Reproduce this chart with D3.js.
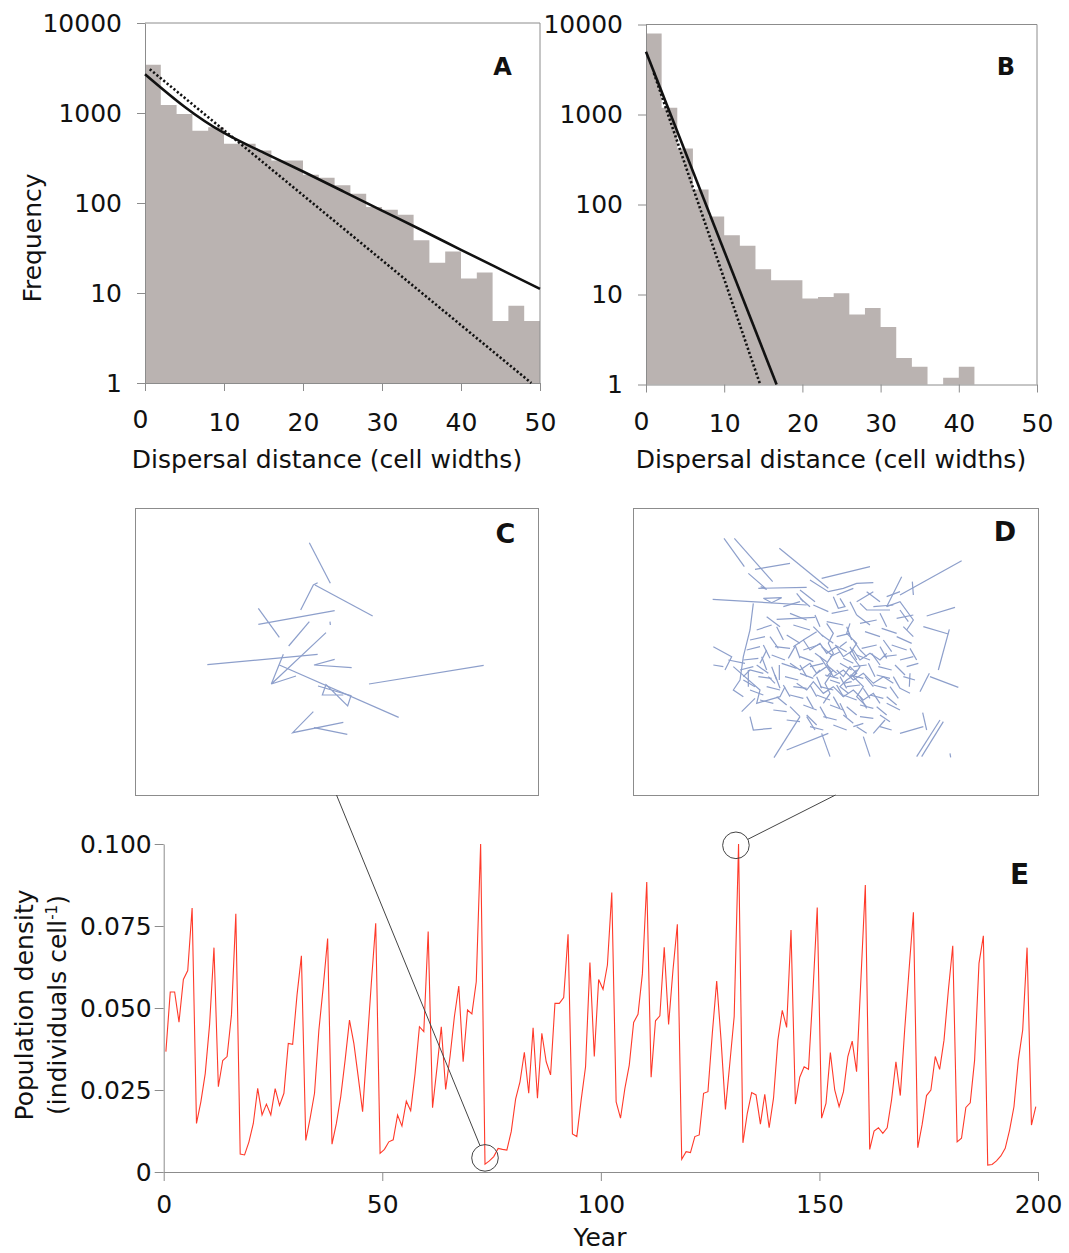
<!DOCTYPE html>
<html>
<head>
<meta charset="utf-8">
<script src="https://cdn.jsdelivr.net/npm/d3@7"></script>
<style>
    body { margin: 0; background: #fff; }
    svg { display: block; font-family: "DejaVu Sans", Verdana, sans-serif; }
    .axis path, .axis line { stroke: #8c8c8c; stroke-width: 1; }
    .axis text { font-size: 25px; fill: #111; font-family: "DejaVu Sans", Verdana, sans-serif; }
    .title { font-size: 25px; fill: #111; }
    .panel-label { font-weight: bold; fill: #111; text-anchor: middle; }
</style>
</head>
<body>
<svg id="fig" width="1069" height="1253"></svg>
<script>
// Histogram bins (cell widths), bin width 2
const binWidth = 2;
const binStartsA = [0, 2, 4, 6, 8, 10, 12, 14, 16, 18, 20, 22, 24, 26, 28, 30, 32, 34, 36, 38, 40, 42, 44, 46, 48];
const freqA = [3430, 1227, 975, 637, 694, 454, 454, 383, 297, 297, 206, 191, 157, 127, 90, 84, 74, 38.6, 21.7, 29, 14.5, 16.9, 4.9, 7.2, 4.9];
const binStartsB = [0, 2, 4, 6, 8, 10, 12, 14, 16, 18, 20, 22, 24, 26, 28, 30, 32, 34, 36, 38, 40];
const freqB = [7940, 1186, 419, 147, 73.5, 45.6, 34.7, 19.1, 14.4, 14.4, 9.0, 9.4, 10.3, 6.0, 7.1, 4.35, 1.97, 1.57, 1.0, 1.19, 1.57];

// Fitted kernels (solid) and exponential fits (dotted)
const fitDistA = [0, 5, 10, 15, 20, 25, 30, 35, 40, 45, 50];
const fitFreqA = [2700, 1175, 600, 363, 224, 136, 82.4, 50.1, 30.2, 18.3, 11.1];
const expDistA = [0.6, 48.9];
const expFreqA = [3070, 1];
const fitDistB = [0, 16.7];
const fitFreqB = [4970, 1];
const expDistB = [1, 14.6];
const expFreqB = [2900, 1];

const distTicks = [0, 10, 20, 30, 40, 50];
const freqTicks = [1, 10, 100, 1000, 10000];

// Yearly population density, years 0..199
const density = [
    0.0367, 0.0549, 0.0549, 0.0457, 0.0587, 0.0614, 0.0805, 0.0148, 0.0214, 0.030,
    0.045, 0.0684, 0.026, 0.034, 0.0352, 0.0479, 0.0787, 0.0055, 0.0052, 0.0092,
    0.0148, 0.0255, 0.0174, 0.0207, 0.0174, 0.0254, 0.0203, 0.024, 0.0392, 0.0389,
    0.054, 0.0659, 0.0096, 0.0164, 0.024, 0.0433, 0.0565, 0.0712, 0.0085, 0.0148,
    0.023, 0.0341, 0.0463, 0.0392, 0.029, 0.0184, 0.038, 0.0577, 0.0758, 0.0057,
    0.0069, 0.0092, 0.0098, 0.0174, 0.014, 0.0216, 0.0187, 0.030, 0.0443, 0.0428,
    0.0733, 0.0196, 0.0316, 0.0443, 0.0252, 0.0352, 0.0474, 0.0567, 0.0336, 0.0494,
    0.0482, 0.058, 0.100, 0.0024, 0.0034, 0.0047, 0.0072, 0.0069, 0.0067, 0.0123,
    0.0222, 0.0275, 0.0365, 0.024, 0.044, 0.0225, 0.0423, 0.0336, 0.0296, 0.0514,
    0.0514, 0.0532, 0.0725, 0.0116, 0.0108, 0.022, 0.0321, 0.0639, 0.0352, 0.0587,
    0.0557, 0.0631, 0.0852, 0.0214, 0.0164, 0.0255, 0.0326, 0.0456, 0.0481, 0.0604,
    0.0884, 0.0289, 0.0461, 0.0476, 0.0685, 0.045, 0.0616, 0.0755, 0.0039, 0.0062,
    0.0059, 0.0108, 0.0113, 0.024, 0.0245, 0.0423, 0.0582, 0.0402, 0.0191, 0.0331,
    0.0474, 0.100, 0.0089, 0.0179, 0.0242, 0.0235, 0.0146, 0.0237, 0.0135, 0.0225,
    0.0402, 0.0493, 0.0441, 0.0738, 0.0207, 0.0289, 0.0321, 0.0313, 0.0545, 0.0806,
    0.0164, 0.0209, 0.0364, 0.025, 0.0199, 0.0245, 0.0352, 0.0399, 0.0306, 0.059,
    0.0875, 0.0069, 0.0125, 0.0135, 0.0118, 0.0135, 0.022, 0.0336, 0.0233, 0.0433,
    0.0616, 0.0792, 0.0074, 0.0145, 0.0233, 0.025, 0.0352, 0.0313, 0.0402, 0.0555,
    0.069, 0.0092, 0.0103, 0.0197, 0.0211, 0.0341, 0.0636, 0.072, 0.0021, 0.0023,
    0.0034, 0.0049, 0.0072, 0.0128, 0.0199, 0.0341, 0.0433, 0.0684, 0.0143, 0.0199
];
const yearTicks = [0, 50, 100, 150, 200];
const densityTicks = [0, 0.025, 0.05, 0.075, 0.1];

// Highlighted years (circles) linked to the dispersal maps C and D
const zoomYears = [73.5, 130.9];
const zoomDensity = [0.0043, 0.0996];

// Dispersal tracks, landscape units
const tracksC = [
    [[358, 38], [421, 160]], [[375, 165], [548, 258]], [[383, 158], [370, 165], [332, 240]],
    [[205, 235], [268, 322]], [[205, 283], [434, 242]], [[358, 275], [296, 348]],
    [[420, 275], [421, 285]], [[52, 404], [383, 373]], [[408, 308], [244, 462], [318, 438]],
    [[280, 373], [244, 462]], [[268, 405], [626, 562]], [[434, 388], [372, 405], [485, 413]],
    [[537, 462], [881, 406]], [[460, 495], [397, 495], [408, 464], [473, 528], [483, 497], [384, 468]],
    [[370, 545], [308, 608], [460, 577]], [[372, 593], [472, 613]]
];
const tracksD = [
    // outer, long moves
    [[72, 25], [133, 110]], [[103, 25], [218, 155]], [[238, 55], [385, 175]], [[165, 118], [270, 100]],
    [[145, 130], [200, 178], [182, 170]], [[365, 145], [510, 110]], [[38, 208], [320, 225]],
    [[190, 205], [245, 203], [215, 218], [190, 205]], [[175, 175], [320, 172]], [[230, 268], [345, 262]],
    [[785, 92], [600, 195]], [[605, 140], [560, 230]], [[637, 155], [640, 195]], [[680, 258], [765, 232]],
    [[670, 290], [745, 312]], [[748, 298], [715, 420]], [[690, 440], [775, 472]], [[688, 430], [660, 485]],
    [[40, 350], [95, 380], [75, 420]], [[40, 405], [70, 410]], [[125, 545], [165, 505]],
    [[150, 560], [160, 600], [215, 595]], [[222, 683], [300, 560]], [[260, 660], [385, 610]],
    [[365, 610], [390, 680]], [[490, 620], [510, 680]], [[600, 610], [670, 590]], [[668, 548], [680, 600]],
    [[650, 680], [720, 570]], [[665, 680], [730, 575]], [[750, 670], [752, 682]], [[520, 610], [555, 570]],
    [[330, 150], [385, 185], [430, 175], [470, 160], [520, 158]],
    [[400, 200], [415, 235], [435, 230], [420, 205]], [[480, 220], [500, 240], [570, 240]],
    [[520, 185], [470, 215]], [[560, 230], [600, 215], [640, 270], [620, 300]],
    [[160, 220], [150, 300], [130, 380], [120, 450], [100, 480], [130, 500]], [[85, 390], [135, 400]],
    [[100, 410], [180, 480], [170, 520], [240, 500], [255, 470]], [[130, 440], [150, 420], [190, 430]],
    [[238, 405], [238, 450]], [[145, 420], [145, 470]], [[630, 430], [628, 470]], [[300, 205], [330, 230]],
    [[290, 190], [310, 215]], [[200, 360], [180, 400]], [[205, 440], [225, 460]],
    [[320, 560], [345, 600]], [[420, 520], [440, 560]], [[560, 520], [600, 540]],
    [[470, 590], [500, 610]], [[540, 590], [575, 600]],
    // core zig-zag walks
    [[280, 350], [310, 330], [330, 360], [360, 340], [380, 370], [410, 350], [430, 380], [460, 360], [480, 390], [510, 370], [540, 390], [560, 370]],
    [[270, 400], [300, 420], [330, 400], [350, 430], [380, 410], [400, 440], [430, 420], [460, 450], [490, 430], [520, 460], [550, 440], [580, 460]],
    [[290, 460], [320, 480], [340, 455], [370, 490], [400, 470], [430, 500], [460, 480], [490, 510], [520, 490], [540, 520]],
    [[450, 280], [440, 310], [470, 340], [450, 370], [480, 410], [460, 440], [490, 470], [470, 500], [500, 530]],
    [[380, 280], [400, 310], [385, 340], [400, 370], [380, 400], [395, 430], [375, 460], [390, 490], [370, 520]],
    [[410, 420], [430, 440], [450, 410], [470, 430], [440, 450], [420, 470], [445, 490]],
    // core, single moves
    [[300, 180], [345, 215]], [[410, 195], [460, 175]], [[500, 185], [540, 215]], [[560, 200], [600, 185]],
    [[250, 230], [300, 215]], [[340, 225], [385, 245]], [[450, 215], [470, 255]], [[520, 230], [580, 225]], [[600, 240], [625, 275]],
    [[200, 260], [240, 290]], [[270, 250], [320, 270]], [[345, 255], [360, 290]], [[395, 250], [445, 240]], [[470, 255], [510, 285]], [[540, 250], [560, 290]], [[590, 265], [640, 255]],
    [[170, 300], [215, 285]], [[230, 290], [250, 330]], [[280, 285], [330, 300]], [[340, 290], [370, 320]], [[380, 275], [430, 285]], [[440, 290], [455, 330]], [[480, 280], [530, 270]], [[545, 295], [590, 310]], [[610, 290], [640, 320]],
    [[150, 330], [195, 320]], [[210, 320], [235, 355]], [[260, 315], [300, 340]], [[310, 330], [350, 305]], [[365, 315], [400, 340]], [[410, 320], [450, 310]], [[460, 330], [480, 360]], [[495, 305], [540, 320]], [[550, 330], [575, 365]], [[590, 320], [635, 340]],
    [[140, 360], [180, 350]], [[190, 345], [210, 385]], [[225, 350], [270, 355]], [[285, 345], [300, 385]], [[310, 360], [355, 345]], [[365, 350], [395, 375]], [[405, 345], [440, 365]], [[450, 350], [470, 390]], [[485, 355], [530, 345]], [[540, 350], [560, 385]], [[575, 345], [620, 360]], [[630, 355], [650, 390]],
    [[130, 390], [175, 385]], [[185, 380], [200, 420]], [[215, 375], [255, 390]], [[265, 385], [285, 350]], [[300, 380], [340, 395]], [[345, 370], [380, 395]], [[390, 380], [420, 365]], [[430, 385], [460, 400]], [[470, 375], [510, 390]], [[515, 370], [540, 405]], [[550, 380], [590, 375]], [[600, 390], [640, 380]],
    [[120, 420], [160, 410]], [[170, 405], [205, 430]], [[215, 410], [230, 450]], [[245, 400], [290, 415]], [[300, 405], [320, 440]], [[330, 410], [370, 400]], [[380, 405], [410, 430]], [[420, 400], [455, 420]], [[460, 410], [500, 405]], [[505, 400], [525, 440]], [[535, 410], [575, 420]], [[585, 405], [615, 435]], [[620, 410], [655, 400]],
    [[130, 450], [165, 470]], [[175, 440], [215, 445]], [[225, 435], [240, 475]], [[255, 440], [295, 450]], [[300, 430], [340, 445]], [[350, 440], [365, 475]], [[375, 435], [415, 445]], [[420, 440], [440, 475]], [[450, 435], [490, 445]], [[495, 440], [520, 470]], [[530, 435], [570, 445]], [[580, 440], [600, 475]], [[610, 440], [645, 450]],
    [[150, 480], [190, 495]], [[200, 470], [240, 480]], [[250, 465], [270, 500]], [[280, 470], [320, 475]], [[330, 465], [350, 500]], [[360, 470], [400, 480]], [[410, 465], [430, 500]], [[440, 470], [480, 465]], [[490, 475], [510, 505]], [[520, 465], [560, 475]], [[570, 470], [595, 505]], [[600, 475], [630, 490]],
    [[180, 510], [220, 520]], [[230, 500], [260, 525]], [[270, 495], [310, 505]], [[320, 500], [340, 535]], [[350, 495], [390, 510]], [[400, 500], [420, 535]], [[430, 495], [470, 510]], [[480, 500], [500, 535]], [[510, 495], [550, 505]], [[560, 500], [590, 525]],
    [[220, 540], [260, 545]], [[270, 530], [300, 560]], [[310, 525], [350, 540]], [[360, 530], [380, 565]], [[390, 525], [430, 540]], [[440, 530], [470, 555]], [[480, 525], [520, 535]], [[530, 530], [560, 555]],
    [[260, 570], [300, 575]], [[320, 555], [350, 585]], [[370, 560], [410, 570]], [[430, 555], [460, 580]], [[480, 560], [520, 565]], [[540, 555], [570, 575]],
    [[330, 590], [370, 600]], [[400, 585], [440, 600]], [[460, 590], [490, 580]],
    [[360, 380], [380, 410]], [[420, 350], [440, 335]], [[470, 420], [450, 440]], [[390, 450], [420, 460]],
    [[340, 440], [360, 420]], [[480, 360], [500, 380]], [[400, 420], [380, 440]], [[430, 460], [455, 455]]
];

const svg = d3.select('#fig');
svg.append('rect').attr('width', 1069).attr('height', 1253).attr('fill', '#fff');

function drawHistogram(o) {
    const x = d3.scaleLinear().domain([0, 50]).range([o.left, o.right]);
    const y = d3.scaleLog().domain([1, 10000]).range([o.bottom, o.top]);
    const g = svg.append('g');

    // Bars as one stepped area so neighbouring bins leave no seams
    const steps = o.starts.map((s, i) => [s, o.freq[i]]);
    steps.push([o.starts[o.starts.length - 1] + binWidth, o.freq[o.freq.length - 1]]);
    g.append('path')
        .datum(steps)
        .attr('fill', '#bab3b1')
        .attr('d', d3.area()
            .curve(d3.curveStepAfter)
            .x(d => x(d[0]))
            .y0(y(1))
            .y1(d => y(d[1])));

    // Frame: top and right edges
    g.append('path')
        .attr('d', `M${x(0)},${y(10000)}H${x(50)}V${y(1)}`)
        .attr('fill', 'none')
        .attr('stroke', '#8c8c8c');

    g.append('g')
        .attr('class', 'axis')
        .attr('transform', `translate(0,${y(1)})`)
        .call(d3.axisBottom(x).tickValues(distTicks).tickSize(8).tickPadding(22).tickSizeOuter(0))
        .selectAll('text')
        .filter(d => d === 0)
        .attr('dx', -5)
        .attr('dy', '0.6em');

    g.append('g')
        .attr('class', 'axis')
        .attr('transform', `translate(${x(0)},0)`)
        .call(d3.axisLeft(y).tickValues(freqTicks).tickFormat(d3.format('d')).tickSize(8).tickPadding(15).tickSizeOuter(0));

    const line = d3.line().x(d => x(d[0])).y(d => y(d[1]));

    g.append('path')
        .datum(o.expDist.map((d, i) => [d, o.expFreq[i]]))
        .attr('fill', 'none')
        .attr('stroke', '#111')
        .attr('stroke-width', 2.6)
        .attr('stroke-dasharray', '2.2,2.2')
        .attr('d', line);

    g.append('path')
        .datum(o.fitDist.map((d, i) => [d, o.fitFreq[i]]))
        .attr('fill', 'none')
        .attr('stroke', '#111')
        .attr('stroke-width', 2.6)
        .attr('d', line.curve(d3.curveNatural));

    g.append('text')
        .attr('class', 'title')
        .attr('x', o.titleX)
        .attr('y', 468)
        .attr('text-anchor', 'middle')
        .text('Dispersal distance (cell widths)');

    g.append('text')
        .attr('class', 'panel-label')
        .attr('x', o.labelX)
        .attr('y', 75)
        .style('font-size', '24px')
        .text(o.label);
}

drawHistogram({
    left: 145, right: 540, top: 23, bottom: 383,
    starts: binStartsA, freq: freqA,
    fitDist: fitDistA, fitFreq: fitFreqA, expDist: expDistA, expFreq: expFreqA,
    titleX: 327, labelX: 502.5, label: 'A'
});
drawHistogram({
    left: 646, right: 1037, top: 24.5, bottom: 384.5,
    starts: binStartsB, freq: freqB,
    fitDist: fitDistB, fitFreq: fitFreqB, expDist: expDistB, expFreq: expFreqB,
    titleX: 831, labelX: 1006, label: 'B'
});

svg.append('text')
    .attr('class', 'title')
    .attr('transform', 'translate(41,238) rotate(-90)')
    .attr('text-anchor', 'middle')
    .text('Frequency');

// Dispersal maps C and D
function drawMap(box, tracks, sx, sy, label) {
    const g = svg.append('g');
    g.append('rect')
        .attr('x', box.x + 0.5).attr('y', box.y + 0.5)
        .attr('width', box.w).attr('height', box.h)
        .attr('fill', '#fff')
        .attr('stroke', '#8c8c8c');
    const line = d3.line().x(p => sx(p[0])).y(p => sy(p[1]));
    g.selectAll('path.track')
        .data(tracks)
        .join('path')
        .attr('class', 'track')
        .attr('fill', 'none')
        .attr('stroke', '#8d9fcb')
        .attr('stroke-width', 1.2)
        .attr('d', line);
    g.append('text')
        .attr('class', 'panel-label')
        .attr('x', box.labelX)
        .attr('y', box.labelY)
        .style('font-size', '27px')
        .text(label);
}

const boxC = { x: 135, y: 508, w: 403, h: 287, labelX: 505.5, labelY: 543 };
const boxD = { x: 633, y: 508, w: 405, h: 287, labelX: 1005, labelY: 541 };
drawMap(boxC, tracksC,
    d3.scaleLinear().domain([0, 930]).range([190, 500]),
    d3.scaleLinear().domain([0, 630]).range([530, 740]), 'C');
drawMap(boxD, tracksD,
    d3.scaleLinear().domain([0, 810]).range([700, 970]),
    d3.scaleLinear().domain([0, 720]).range([530, 770]), 'D');

// Time series E
const xE = d3.scaleLinear().domain([0, 200]).range([163.7, 1038]);
const yE = d3.scaleLinear().domain([0, 0.1]).range([1172, 844]);
const gE = svg.append('g');

gE.append('g')
    .attr('class', 'axis')
    .attr('transform', `translate(0,${yE(0)})`)
    .call(d3.axisBottom(xE).tickValues(yearTicks).tickSize(9).tickPadding(14).tickSizeOuter(0));

gE.append('g')
    .attr('class', 'axis')
    .attr('transform', `translate(${xE(0)},0)`)
    .call(d3.axisLeft(yE).tickValues(densityTicks)
        .tickFormat(d => d === 0 ? '0' : d3.format('.3f')(d))
        .tickSize(9).tickPadding(3).tickSizeOuter(0));

gE.append('path')
    .datum(density)
    .attr('fill', 'none')
    .attr('stroke', '#ff3a2a')
    .attr('stroke-width', 1.1)
    .attr('d', d3.line().x((d, i) => xE(i + 0.5)).y(d => yE(d)));

// Circles and connectors to the maps
const circleR = 13.3;
const anchors = [
    [boxC.x + boxC.w / 2, boxC.y + boxC.h],
    [boxD.x + boxD.w / 2, boxD.y + boxD.h]
];
zoomYears.forEach((yr, i) => {
    const cx = xE(yr), cy = yE(zoomDensity[i]);
    const [ax, ay] = anchors[i];
    const len = Math.hypot(cx - ax, cy - ay);
    const ex = cx - (cx - ax) / len * circleR;
    const ey = cy - (cy - ay) / len * circleR;
    gE.append('line')
        .attr('x1', ax).attr('y1', ay).attr('x2', ex).attr('y2', ey)
        .attr('stroke', '#444').attr('stroke-width', 1);
    gE.append('circle')
        .attr('cx', cx).attr('cy', cy).attr('r', circleR)
        .attr('fill', 'none').attr('stroke', '#444').attr('stroke-width', 1);
});

gE.append('text')
    .attr('class', 'title')
    .attr('x', 600)
    .attr('y', 1246)
    .attr('text-anchor', 'middle')
    .text('Year');

const yLabel = gE.append('text')
    .attr('class', 'title')
    .attr('transform', 'translate(0,1005) rotate(-90)')
    .attr('text-anchor', 'middle');
yLabel.append('tspan').attr('x', 0).attr('y', 33).text('Population density');
const line2 = yLabel.append('tspan').attr('x', 0).attr('y', 66).text('(individuals cell');
line2.append('tspan').style('font-size', '15px').attr('dy', -9).text('-1');
line2.append('tspan').attr('dy', 9).text(')');

gE.append('text')
    .attr('class', 'panel-label')
    .attr('x', 1019.5)
    .attr('y', 884)
    .style('font-size', '28px')
    .text('E');
</script>
</body>
</html>
